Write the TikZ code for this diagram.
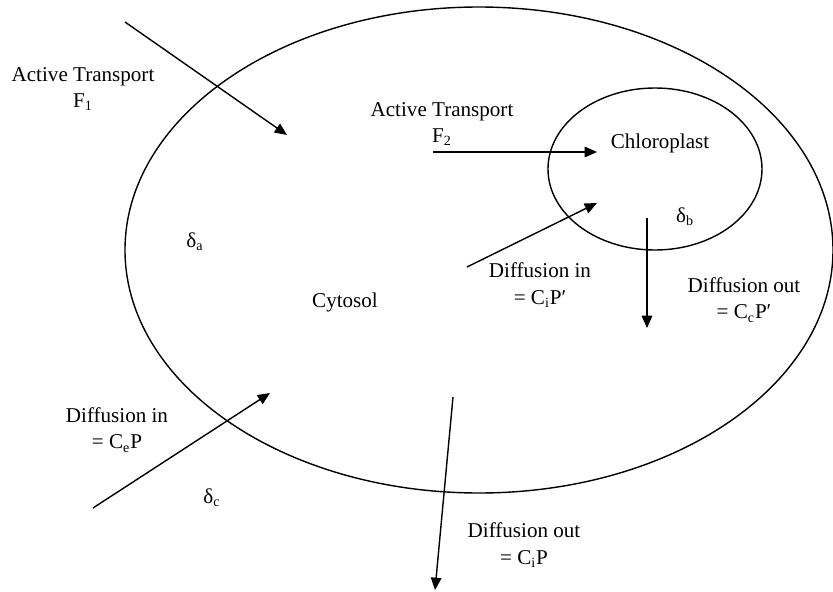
\documentclass[tikz,border=0pt]{standalone}
\usepackage{fontspec}
\setmainfont{Liberation Serif}
\usetikzlibrary{arrows.meta,positioning}
\tikzset{
  membrane/.style={draw,line width=0.8pt},
  flow/.style={draw,line width=0.8pt,-{Triangle[length=7pt,width=6pt]}},
  texto/.style={font=\fontsize{12}{15}\selectfont,align=center,inner sep=1pt}
}
\newcommand\Sub[1]{\textsubscript{#1}}

\begin{document}
\begin{tikzpicture}[x=0.02cm,y=-0.02cm]
  \useasboundingbox (0,0) rectangle (833,592);
  % cell and chloroplast
  \draw[membrane] (479,250) ellipse [x radius=354,y radius=243];
  \draw[membrane] (655,169) ellipse [x radius=107,y radius=81];

  % labels
  \node[texto] (atone) at (83,89) {Active Transport\\F\Sub{1}};
  \node[texto] (attwo) at (442,124) {Active Transport\\F\Sub{2}};
  \node[texto] (chloro) at (660,143) {Chloroplast};
  \node[texto] (dltb) at (685,217) {δ\Sub{b}};
  \node[texto] (dlta) at (195,242) {δ\Sub{a}};
  \node[texto] (cyto) at (345,302) {Cytosol};
  \node[texto] (dinchl) at (540,285) {Diffusion in\\= C\Sub{i}P′};
  \node[texto] (doutchl) at (744,300) {Diffusion out\\= C\Sub{c}P′};
  \node[texto] (dincell) at (117,430) {Diffusion in\\= C\Sub{e}P};
  \node[texto] (dltc) at (212,498) {δ\Sub{c}};
  \node[texto] (doutcell) at (524,545) {Diffusion out\\= C\Sub{i}P};

  % arrow ends
  \coordinate (fonea) at (125,22);  \coordinate (foneb) at (287,135);
  \coordinate (ftwoa) at (433,152); \coordinate (ftwob) at (597,152);
  \coordinate (dina)  at (467,267); \coordinate (dinb)  at (597,203);
  \coordinate (douta) at (647,218); \coordinate (doutb) at (647,328);
  \coordinate (cina)  at (93,508);  \coordinate (cinb)  at (270,393);
  \coordinate (couta) at (453,397); \coordinate (coutb) at (435,590);

  % fluxes
  \draw[flow] (fonea) -- (foneb);
  \draw[flow] (ftwoa) -- (ftwob);
  \draw[flow] (dina) -- (dinb);
  \draw[flow] (douta) -- (doutb);
  \draw[flow] (cina) -- (cinb);
  \draw[flow] (couta) -- (coutb);
\end{tikzpicture}
\end{document}
